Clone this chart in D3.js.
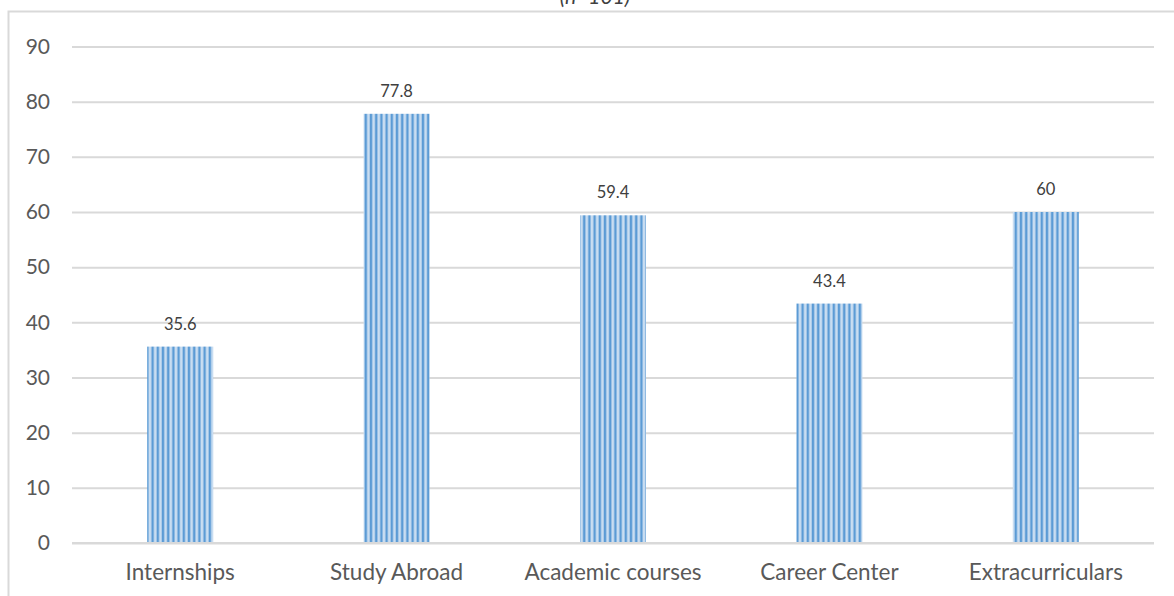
<!DOCTYPE html>
<html><head><meta charset="utf-8">
<script src="https://cdn.jsdelivr.net/npm/d3@7"></script>
<style>body{margin:0;background:#fff;} svg{display:block;font-family:Lato,"Open Sans",sans-serif;}</style>
</head><body>
<svg id="chart" width="1174" height="596"></svg>
<script>
const categories = ["Internships","Study Abroad","Academic courses","Career Center","Extracurriculars"];
const values = [35.6, 77.8, 59.4, 43.4, 60];
const valueLabels = ["35.6","77.8","59.4","43.4","60"];
const yTicks = [0,10,20,30,40,50,60,70,80,90];
const subtitle = "(n=101)";

const svg = d3.select("#chart");
const x = d3.scaleBand().domain(categories).range([72,1154]).paddingInner(0.695).paddingOuter(0.3475);
const y = d3.scaleLinear().domain([0,90]).range([543,46.5]);

const defs = svg.append("defs");
const pat = defs.append("pattern").attr("id","stripes").attr("patternUnits","userSpaceOnUse")
  .attr("width",5.2).attr("height",10);
pat.append("rect").attr("width",5.2).attr("height",10).attr("fill","#c9ddf1");
pat.append("rect").attr("x",0.6).attr("width",2.4).attr("height",10).attr("fill","#5b9bd5");

// outer border
svg.append("rect").attr("x",8.5).attr("y",11.5).attr("width",1200).attr("height",700)
  .attr("fill","none").attr("stroke","#d9d9d9").attr("stroke-width",2);

svg.append("text").attr("x",595).attr("y",4).attr("text-anchor","middle")
  .attr("font-style","italic").attr("font-size",21).attr("fill","#404040").text(subtitle);

// gridlines
const yAxis = d3.axisLeft(y).tickValues(yTicks).tickSize(-(1154-72)).tickPadding(22).tickFormat(d3.format("d"));
const ga = svg.append("g").attr("transform","translate(72,0)").call(yAxis);
ga.select(".domain").remove();
ga.selectAll(".tick line").attr("stroke","#d9d9d9").attr("stroke-width",2);
ga.selectAll(".tick text").attr("font-size",21).attr("fill","#595959").attr("font-family","Lato,sans-serif");

// bars
svg.append("g").selectAll("rect").data(categories).join("rect")
  .attr("x",d=>x(d)).attr("width",x.bandwidth())
  .attr("y",(d,i)=>y(values[i])).attr("height",(d,i)=>y(0)-y(values[i]))
  .attr("fill","url(#stripes)");

// baseline
svg.append("line").attr("x1",72).attr("x2",1154).attr("y1",y(0)).attr("y2",y(0))
  .attr("stroke","#d9d9d9").attr("stroke-width",2);

// value labels
svg.append("g").selectAll("text").data(categories).join("text")
  .attr("x",d=>x(d)+x.bandwidth()/2).attr("y",(d,i)=>y(values[i])-17)
  .attr("text-anchor","middle").attr("font-size",16.5).attr("fill","#404040")
  .text((d,i)=>valueLabels[i]);

// x axis labels
const xAxis = d3.axisBottom(x).tickSize(0).tickPadding(21);
const gx = svg.append("g").attr("transform",`translate(0,${y(0)})`).call(xAxis);
gx.select(".domain").remove();
gx.selectAll(".tick text").attr("font-size",22.5).attr("fill","#595959").attr("font-family","Lato,sans-serif");
</script>
</body></html>
